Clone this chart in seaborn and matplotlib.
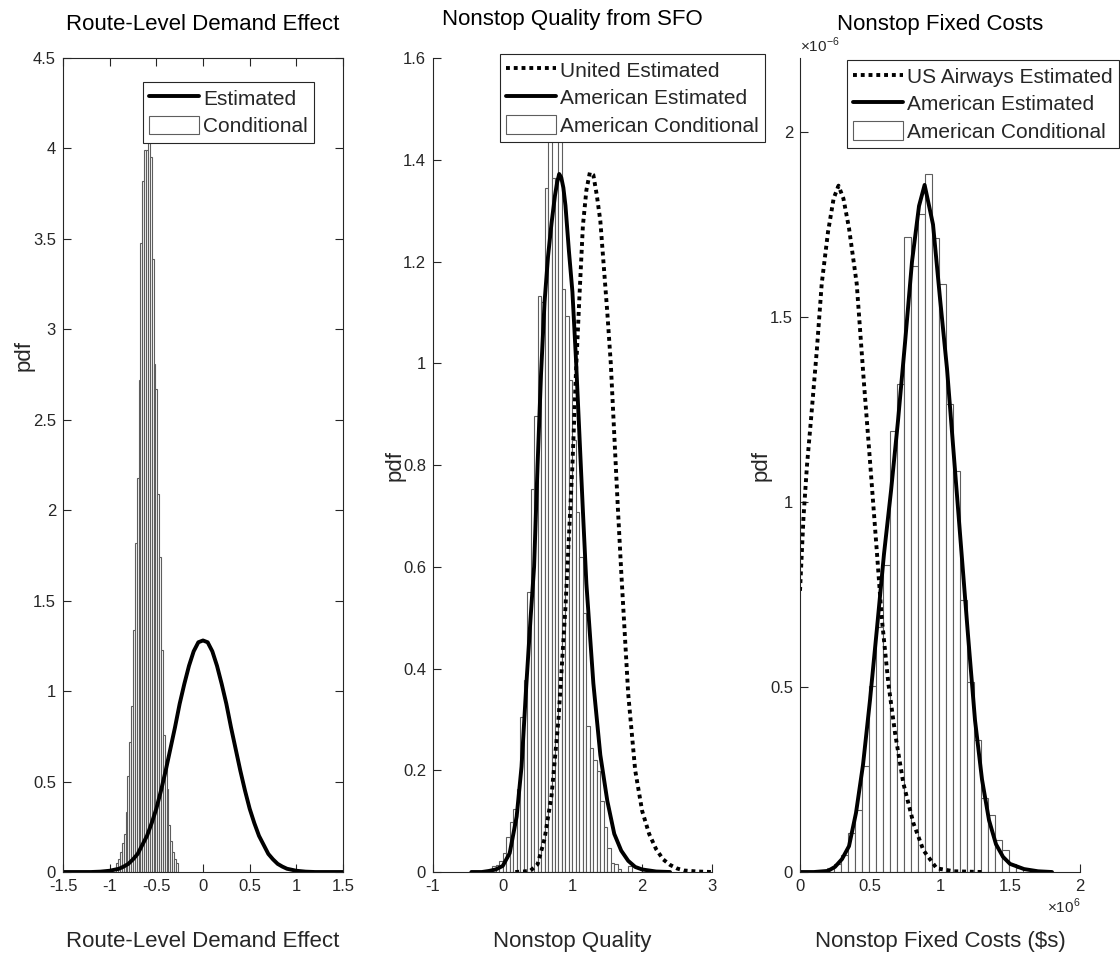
import matplotlib
matplotlib.use("Agg")
import matplotlib.pyplot as plt
import matplotlib.patches as mpatches
from matplotlib.lines import Line2D
from matplotlib.ticker import FuncFormatter
import numpy as np
import pandas as pd
import seaborn as sns

# ---- panel 1: route-level demand effect ----
route_bin_start = -0.93
route_bin_width = 0.02
route_hist = [0.05, 0.07, 0.11, 0.16, 0.21, 0.33, 0.53, 0.72, 0.92, 1.34, 1.82,
              2.18, 2.72, 3.48, 3.82, 3.99, 3.99, 4.03, 3.95, 3.39, 2.81, 2.67,
              2.09, 1.74, 1.23, 0.76, 0.62, 0.46, 0.26, 0.17, 0.11, 0.07, 0.05]
route_x = [-1.5, -1.2, -1.1, -1.0, -0.9, -0.85, -0.8, -0.75, -0.7, -0.65, -0.6,
           -0.55, -0.5, -0.45, -0.4, -0.35, -0.3, -0.25, -0.2, -0.15, -0.1, -0.05,
           0.0, 0.05, 0.1, 0.15, 0.2, 0.25, 0.3, 0.35, 0.4, 0.45, 0.5, 0.55, 0.6,
           0.65, 0.7, 0.75, 0.8, 0.85, 0.9, 1.0, 1.1, 1.2, 1.5]
route_pdf = [0.0, 0.0, 0.002, 0.007, 0.018, 0.03, 0.045, 0.07, 0.10, 0.15, 0.20,
             0.27, 0.35, 0.45, 0.56, 0.68, 0.80, 0.93, 1.04, 1.14, 1.22, 1.27,
             1.28, 1.27, 1.22, 1.14, 1.04, 0.93, 0.80, 0.68, 0.56, 0.45, 0.35, 0.27,
             0.20, 0.15, 0.10, 0.07, 0.045, 0.03, 0.018, 0.007, 0.002, 0.0, 0.0]

# ---- panel 2: nonstop quality from SFO ----
qual_bin_start = -0.15
qual_bin_width = 0.05
qual_hist = [0.012, 0.014, 0.022, 0.037, 0.068, 0.099, 0.123, 0.164, 0.305, 0.377,
             0.551, 0.752, 0.896, 1.132, 1.121, 1.344, 1.52, 1.364, 1.364, 1.50,
             1.146, 1.093, 0.967, 0.85, 0.708, 0.62, 0.51, 0.287, 0.243, 0.22,
             0.199, 0.14, 0.089, 0.047, 0.018, 0.016, 0.005, 0.0, 0.0, 0.012]
american_x = [-0.45, -0.3, -0.2, -0.1, 0.0, 0.1, 0.2, 0.27, 0.34, 0.4, 0.45, 0.5,
              0.55, 0.6, 0.65, 0.7, 0.75, 0.78, 0.81, 0.84, 0.87, 0.9, 0.95, 1.0,
              1.05, 1.1, 1.15, 1.2, 1.3, 1.4, 1.5, 1.6, 1.7, 1.8, 1.9, 2.0, 2.2, 2.4]
american_pdf = [0.0, 0.0, 0.002, 0.005, 0.012, 0.037, 0.109, 0.207, 0.371, 0.50,
                0.60, 0.80, 0.98, 1.12, 1.21, 1.275, 1.33, 1.355, 1.372, 1.365,
                1.345, 1.31, 1.22, 1.14, 1.01, 0.86, 0.71, 0.567, 0.371, 0.23,
                0.14, 0.075, 0.042, 0.022, 0.01, 0.005, 0.001, 0.0]
united_x = [0.18, 0.3, 0.4, 0.5, 0.6, 0.7, 0.8, 0.9, 0.95, 1.0, 1.05, 1.1, 1.15,
            1.2, 1.25, 1.3, 1.35, 1.4, 1.45, 1.5, 1.55, 1.6, 1.65, 1.7, 1.75, 1.8,
            1.9, 2.0, 2.1, 2.2, 2.3, 2.4, 2.5, 2.6, 2.8, 3.0]
united_pdf = [0.0, 0.001, 0.003, 0.015, 0.065, 0.15, 0.30, 0.52, 0.66, 0.80, 0.98,
              1.13, 1.27, 1.34, 1.375, 1.37, 1.33, 1.28, 1.19, 1.10, 1.00, 0.86,
              0.72, 0.59, 0.47, 0.35, 0.20, 0.12, 0.075, 0.045, 0.025, 0.014,
              0.007, 0.003, 0.001, 0.0]

# ---- panel 3: nonstop fixed costs (x in $ millions, pdf in 1e-6) ----
cost_bin_start = 0.195
cost_bin_width = 0.05
cost_hist = [0.012, 0.023, 0.046, 0.105, 0.168, 0.286, 0.503, 0.663, 0.83, 1.192,
             1.318, 1.717, 1.639, 1.778, 1.886, 1.714, 1.588, 1.264, 1.085, 0.735,
             0.514, 0.357, 0.199, 0.154, 0.086, 0.059, 0.023, 0.01]
aa_cost_x = [0.0, 0.1, 0.2, 0.25, 0.3, 0.35, 0.4, 0.45, 0.5, 0.55, 0.6, 0.65, 0.7,
             0.75, 0.8, 0.85, 0.89, 0.95, 1.0, 1.05, 1.1, 1.15, 1.2, 1.25, 1.3,
             1.35, 1.4, 1.45, 1.5, 1.6, 1.7, 1.8]
aa_cost_pdf = [0.0, 0.0, 0.003, 0.014, 0.035, 0.07, 0.16, 0.29, 0.465, 0.66, 0.86,
               1.03, 1.22, 1.43, 1.65, 1.80, 1.857, 1.75, 1.55, 1.36, 1.12, 0.88,
               0.64, 0.41, 0.25, 0.14, 0.075, 0.041, 0.022, 0.008, 0.002, 0.0]
us_cost_x = [0.0, 0.025, 0.05, 0.08, 0.12, 0.155, 0.2, 0.24, 0.275, 0.31, 0.35,
             0.405, 0.457, 0.5, 0.548, 0.583, 0.631, 0.679, 0.738, 0.81, 0.881,
             0.976, 1.1, 1.3]
us_cost_pdf = [0.76, 0.96, 1.10, 1.23, 1.41, 1.59, 1.73, 1.82, 1.855, 1.82, 1.74,
               1.59, 1.32, 1.11, 0.87, 0.69, 0.51, 0.375, 0.24, 0.132, 0.059,
               0.01, 0.002, 0.0]

INK = "#262626"
BAR_EDGE = "#5e5e5e"
DOTS = (0, (1, 1))

sns.set_style("white")
plt.rcParams["font.family"] = ["Liberation Sans", "DejaVu Sans"]
plt.rcParams["mathtext.fontset"] = "custom"
plt.rcParams["mathtext.rm"] = "Liberation Sans"

fig = plt.figure(figsize=(11.2, 9.57), dpi=100)
ax1 = fig.add_axes([0.05625, 0.0888, 0.25, 0.8506])
ax2 = fig.add_axes([0.3866, 0.0888, 0.249, 0.8506])
ax3 = fig.add_axes([0.7143, 0.0888, 0.25, 0.8506])


def draw_hist(ax, start, width, heights, scale_x=1.0, scale_y=1.0):
    n = len(heights)
    centers = (start + width * (np.arange(n) + 0.5)) * scale_x
    df = pd.DataFrame({"x": centers, "h": np.array(heights) * scale_y})
    sns.histplot(data=df, x="x", weights="h", binwidth=width * scale_x,
                 binrange=(start * scale_x, (start + width * n) * scale_x), ax=ax,
                 stat="count", color="white", edgecolor=BAR_EDGE, linewidth=0.8,
                 alpha=1)


def style_axes(ax, box):
    for side in ["left", "bottom", "top", "right"]:
        ax.spines[side].set_color(INK)
        ax.spines[side].set_linewidth(0.8)
    if not box:
        ax.spines["top"].set_visible(False)
        ax.spines["right"].set_visible(False)
    ax.tick_params(direction="in", length=6, width=0.8, color=INK,
                   labelcolor=INK, labelsize=12, pad=5,
                   top=box, right=box, bottom=True, left=True)


def finish(ax, title, xlabel, ylab_y=0.5, tpad=20):
    ax.set_title(title, fontsize=16, pad=tpad, color="black")
    ax.set_xlabel(xlabel, fontsize=16, color=INK)
    ax.set_ylabel("pdf", fontsize=16, color=INK)
    ax.xaxis.set_label_coords(0.5, -0.072)
    ax.yaxis.set_label_coords(-0.1, ylab_y)


def legend(ax, labels, styles, anchor):
    handles = []
    for style in styles:
        if style == "dots":
            handles.append(Line2D([], [], color="black", lw=2.8, linestyle=DOTS))
        elif style == "solid":
            handles.append(Line2D([], [], color="black", lw=2.8))
        else:
            handles.append(mpatches.Patch(facecolor="white", edgecolor=BAR_EDGE, lw=0.8))
    leg = ax.legend(handles, labels, loc="upper left", bbox_to_anchor=anchor,
                    fontsize=15, frameon=True, fancybox=False, framealpha=1,
                    edgecolor=INK, borderpad=0.3, labelspacing=0.34,
                    handlelength=2.4, handleheight=1.0, handletextpad=0.2,
                    borderaxespad=0)
    leg.get_frame().set_linewidth(0.8)
    leg.set_zorder(10)


# panel 1
draw_hist(ax1, route_bin_start, route_bin_width, route_hist)
sns.lineplot(x=route_x, y=route_pdf, ax=ax1, color="black", linewidth=2.8)
ax1.set_xlim(-1.5, 1.5)
ax1.set_ylim(0, 4.5)
ax1.set_xticks([-1.5, -1, -0.5, 0, 0.5, 1, 1.5])
ax1.set_xticklabels(["-1.5", "-1", "-0.5", "0", "0.5", "1", "1.5"])
ax1.set_yticks(np.arange(0, 4.51, 0.5))
ax1.set_yticklabels(["0", "0.5", "1", "1.5", "2", "2.5", "3", "3.5", "4", "4.5"])
style_axes(ax1, True)
finish(ax1, "Route-Level Demand Effect", "Route-Level Demand Effect", ylab_y=0.635)
legend(ax1, ["Estimated", "Conditional"], ["solid", "bar"], (0.286, 0.9705))

# panel 2
draw_hist(ax2, qual_bin_start, qual_bin_width, qual_hist)
sns.lineplot(x=united_x, y=united_pdf, ax=ax2, color="black", linewidth=2.8,
             linestyle=DOTS)
sns.lineplot(x=american_x, y=american_pdf, ax=ax2, color="black", linewidth=2.8)
ax2.set_xlim(-1, 3)
ax2.set_ylim(0, 1.6)
ax2.set_xticks([-1, 0, 1, 2, 3])
ax2.set_xticklabels(["-1", "0", "1", "2", "3"])
ax2.set_yticks(np.arange(0, 1.61, 0.2))
ax2.set_yticklabels(["0", "0.2", "0.4", "0.6", "0.8", "1", "1.2", "1.4", "1.6"])
style_axes(ax2, False)
finish(ax2, "Nonstop Quality from SFO", "Nonstop Quality", tpad=24)
legend(ax2, ["United Estimated", "American Estimated", "American Conditional"],
       ["dots", "solid", "bar"], (0.239, 1.005))

# panel 3
draw_hist(ax3, cost_bin_start, cost_bin_width, cost_hist, 1e6, 1e-6)
sns.lineplot(x=np.array(us_cost_x) * 1e6, y=np.array(us_cost_pdf) * 1e-6, ax=ax3,
             color="black", linewidth=2.8, linestyle=DOTS)
sns.lineplot(x=np.array(aa_cost_x) * 1e6, y=np.array(aa_cost_pdf) * 1e-6, ax=ax3,
             color="black", linewidth=2.8)
ax3.set_xlim(0, 2e6)
ax3.set_ylim(0, 2.2e-6)
ax3.set_xticks([0, 0.5e6, 1e6, 1.5e6, 2e6])
ax3.set_yticks([0, 0.5e-6, 1e-6, 1.5e-6, 2e-6])
ax3.xaxis.set_major_formatter(FuncFormatter(lambda v, p: f"{v / 1e6:g}"))
ax3.yaxis.set_major_formatter(FuncFormatter(lambda v, p: f"{v * 1e6:g}"))
style_axes(ax3, False)
finish(ax3, "Nonstop Fixed Costs", "Nonstop Fixed Costs ($s)")
ax3.text(0.0, 1.004, r"$\times10^{-6}$", transform=ax3.transAxes, ha="left",
         va="bottom", fontsize=11, color=INK)
ax3.text(1.0, -0.03, r"$\times10^{6}$", transform=ax3.transAxes, ha="right",
         va="top", fontsize=11, color=INK)
legend(ax3, ["US Airways Estimated", "American Estimated", "American Conditional"],
       ["dots", "solid", "bar"], (0.168, 0.9975))

fig.savefig("out.png", dpi=100, facecolor="white")
